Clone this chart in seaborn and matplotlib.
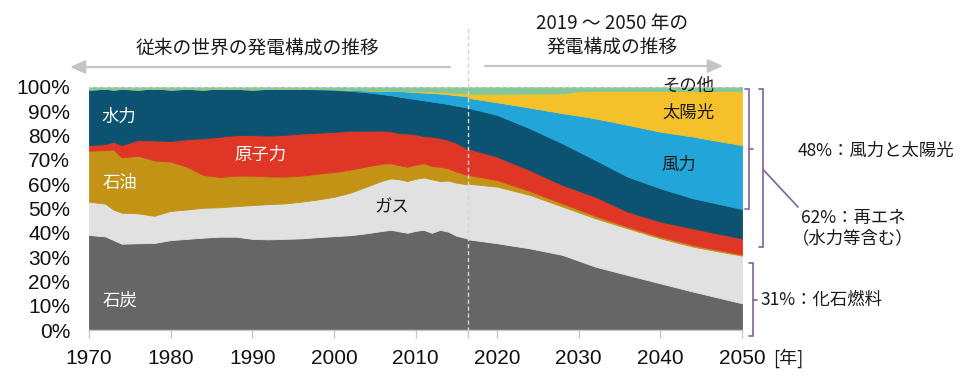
import numpy as np
import pandas as pd
import matplotlib
matplotlib.use("Agg")
import matplotlib.pyplot as plt
from matplotlib import transforms
import seaborn as sns

# ---------------- data (shares of generation, %) ----------------
years = [1970, 1972, 1973, 1974, 1976, 1978, 1980, 1982, 1984, 1986, 1988, 1990,
         1992, 1994, 1996, 1998, 2000, 2002, 2004, 2006, 2007, 2008, 2009, 2010,
         2011, 2012, 2013, 2014, 2015, 2016.3,
         2016.5, 2020, 2024, 2028, 2030, 2032, 2036, 2040, 2044, 2047, 2050]

coal = [39.1, 38.5, 37.0, 35.5, 35.7, 35.8, 37.0, 37.5, 38.0, 38.4, 38.4, 37.5,
        37.3, 37.5, 37.7, 38.2, 38.6, 39.0, 39.8, 40.8, 41.2, 40.6, 40.0, 40.8,
        41.2, 40.0, 41.2, 40.5, 38.8, 37.7,
        37.3, 35.7, 33.6, 30.9, 28.5, 26.1, 22.6, 19.2, 15.8, 13.4, 11.0]
gas = [13.7, 13.5, 12.5, 12.8, 12.3, 11.2, 12.0, 12.1, 12.3, 12.1, 12.6, 13.9,
       14.5, 14.6, 15.1, 15.5, 16.2, 17.5, 19.2, 20.7, 21.2, 21.4, 21.3, 21.4,
       21.6, 22.0, 20.1, 21.0, 21.8, 22.3,
       22.9, 23.3, 22.0, 19.9, 19.9, 19.9, 19.2, 18.5, 18.5, 19.0, 19.6]
oil = [21.0, 22.0, 24.8, 22.7, 23.7, 22.8, 20.3, 17.6, 13.5, 12.5, 12.5, 12.1,
       11.4, 11.0, 10.7, 10.6, 10.2, 9.5, 8.3, 7.0, 6.2, 5.8, 5.9, 5.8,
       5.8, 5.5, 5.9, 5.0, 4.6, 3.8,
       3.6, 2.7, 1.6, 1.3, 1.2, 1.0, 0.7, 0.7, 0.7, 0.6, 0.5]
nuclear = [2.3, 2.5, 3.2, 5.1, 6.5, 8.2, 8.5, 11.3, 15.1, 16.5, 16.7, 16.7,
           16.8, 17.2, 17.3, 16.9, 16.5, 16.0, 14.7, 13.6, 13.2, 13.2, 13.7, 12.5,
           11.2, 12.1, 11.8, 11.7, 11.8, 10.8,
           10.8, 9.6, 8.6, 7.6, 7.7, 7.9, 6.2, 6.2, 6.8, 6.7, 6.6]
hydro = [22.9, 22.7, 21.5, 23.1, 20.8, 21.3, 21.2, 20.7, 20.1, 19.8, 19.0, 18.8,
         19.2, 19.0, 18.4, 17.8, 17.3, 16.4, 15.8, 14.9, 14.8, 15.0, 14.6, 14.5,
         14.7, 14.4, 14.5, 14.8, 15.3, 17.0,
         16.8, 17.2, 17.2, 17.1, 16.1, 15.1, 14.4, 13.7, 12.4, 12.3, 12.1]
wind = [0, 0, 0, 0, 0, 0, 0, 0, 0, 0, 0, 0,
        0, 0, 0.1, 0.2, 0.3, 0.5, 0.8, 1.5, 1.9, 2.3, 2.6, 2.9,
        3.2, 3.5, 3.8, 4.0, 4.3, 4.6,
        4.1, 5.2, 8.5, 12.4, 14.8, 17.1, 21.3, 23.3, 25.4, 25.8, 26.3]
solar = [0, 0, 0, 0, 0, 0, 0, 0, 0, 0, 0, 0,
         0, 0, 0, 0, 0, 0, 0, 0, 0, 0.1, 0.2, 0.3,
         0.5, 0.7, 0.6, 0.8, 1.0, 1.2,
         1.7, 3.5, 5.8, 8.2, 10.0, 11.3, 14.0, 16.8, 18.8, 20.6, 22.3]
other = [1.0, 0.8, 1.0, 0.8, 1.0, 0.7, 1.0, 0.8, 1.0, 0.7, 0.8, 1.0,
         0.8, 0.7, 0.7, 0.8, 0.9, 1.1, 1.4, 1.5, 1.5, 1.6, 1.7, 1.8,
         1.8, 1.8, 2.1, 2.2, 2.4, 2.6,
         2.8, 2.8, 2.7, 2.6, 1.8, 1.6, 1.6, 1.6, 1.6, 1.6, 1.6]

sources = ["石炭", "ガス", "石油", "原子力", "水力", "風力", "太陽光", "その他"]
colors = ["#666666", "#e1e1e1", "#c39316", "#e03626", "#0b5370", "#22a5d8",
          "#f5c12a", "#82c797"]
xtick_years = [1970, 1980, 1990, 2000, 2010, 2020, 2030, 2040, 2050]
ytick_vals = list(range(0, 101, 10))
split_year = 2016.4

df = pd.DataFrame({"year": years, "石炭": coal, "ガス": gas, "石油": oil,
                   "原子力": nuclear, "水力": hydro, "風力": wind,
                   "太陽光": solar, "その他": other})

# ---------------- style ----------------
sns.set_theme(style="white")
plt.rcParams["font.family"] = ["Noto Sans CJK JP", "DejaVu Sans"]
palette = sns.color_palette(colors)

W, H = 960, 386
fig = plt.figure(figsize=(W / 100, H / 100), dpi=100)
ax = fig.add_axes([89 / W, 1 - 330 / H, 653 / W, 243 / H])

ax.stackplot(df["year"], [df[s] for s in sources], colors=palette,
             linewidth=0.6, edgecolor="face")

ax.set_xlim(1970, 2050)
ax.set_ylim(0, 100)

# axes styling
for side in ["left", "right", "top"]:
    ax.spines[side].set_visible(False)
ax.spines["bottom"].set_color("#c8c8c8")
ax.spines["bottom"].set_linewidth(1)

ax.set_xticks(xtick_years)
ax.set_xticklabels([str(y) for y in xtick_years], fontfamily="Liberation Sans",
                   fontsize=15, color="#111111")
ax.set_xticks([split_year], minor=True)
ax.tick_params(axis="x", which="both", length=6, width=1, color="#c8c8c8",
               pad=8, bottom=True)
ax.set_yticks(ytick_vals)
ax.set_yticklabels([f"{v}%" for v in ytick_vals], fontfamily="Liberation Sans",
                   fontsize=15, color="#111111")
ax.tick_params(axis="y", length=0, pad=13.5)
ax.grid(False)

# dashed separators
ax.axvline(split_year, ymin=-0.033, ymax=1.247, ls=(0, (3, 2)),
           color="#d6d6d6", lw=1, clip_on=False, zorder=5)
ax.axhline(100, ls=(0, (3, 2)), color="#cfcfcf", lw=1, clip_on=False, zorder=5)

# in-chart labels
lab_kw = dict(ha="center", va="center", fontsize=12.5)
ax.text(1973.7, 87.7, "水力", color="white", **lab_kw)
ax.text(1973.8, 60.5, "石油", color="white", **lab_kw)
ax.text(1973.8, 12.3, "石炭", color="white", **lab_kw)
ax.text(1991.0, 72.0, "原子力", color="white", **lab_kw)
ax.text(2007.1, 50.6, "ガス", color="#1a1a1a", **lab_kw)
ax.text(2043.4, 100.6, "その他", color="#1a1a1a", **lab_kw)
ax.text(2043.4, 89.3, "太陽光", color="#1a1a1a", **lab_kw)
ax.text(2042.3, 67.9, "風力", color="#1a1a1a", **lab_kw)

# titles and arrows (figure coordinates)
def fx(px):
    return px / W

def fy(py):
    return 1 - py / H

fig.text(fx(257), fy(48), "従来の世界の発電構成の推移", ha="center", va="center",
         fontsize=13.5, color="#1a1a1a")
fig.text(fx(612), fy(23), "2019 ～ 2050 年の", ha="center", va="center",
         fontsize=13.5, color="#1a1a1a")
fig.text(fx(612), fy(47), "発電構成の推移", ha="center", va="center",
         fontsize=13.5, color="#1a1a1a")

arrow_kw = dict(arrowstyle="-|>,head_length=0.45,head_width=0.2",
                color="#c4c4c4", lw=1.6, shrinkA=0, shrinkB=0, mutation_scale=20)
ax.annotate("", xy=(fx(70), fy(67)), xytext=(fx(450), fy(67)),
            xycoords="figure fraction", textcoords="figure fraction",
            arrowprops=arrow_kw)
ax.annotate("", xy=(fx(723), fy(66)), xytext=(fx(485), fy(66)),
            xycoords="figure fraction", textcoords="figure fraction",
            arrowprops=arrow_kw)

# [年] unit label
fig.text(fx(773), fy(358), "[年]", ha="left", va="center", fontsize=13,
         color="#1a1a1a")

# brackets on the right (x in axes fraction, y in data)
bt = transforms.blended_transform_factory(ax.transAxes, ax.transData)

def ax_x(px):
    return (px - 89) / 653

bcol = "#8064a2"
wind_solar_bottom = sum(v[-1] for v in [coal, gas, oil, nuclear, hydro])

def bracket(xv, top, bottom, serif_len=4, mid=None, mid_len=4):
    x0 = ax_x(xv)
    xs = ax_x(xv - serif_len)
    ax.plot([xs, x0, x0, xs], [top, top, bottom, bottom], color=bcol, lw=1.2,
            transform=bt, clip_on=False, solid_joinstyle="miter")
    if mid is not None:
        ax.plot([x0, ax_x(xv + mid_len)], [mid, mid], color=bcol, lw=1.2,
                transform=bt, clip_on=False)

bracket(749, 99.2, wind_solar_bottom, mid=(99.2 + wind_solar_bottom) / 2)
bracket(763, 99.2, 34.2)
ax.plot([ax_x(763), ax_x(798)], [66.1, 50.6], color=bcol, lw=1.2,
        transform=bt, clip_on=False)
bracket(753, 27.7, -2.5, mid=12.3)

side_kw = dict(va="center", fontsize=12.5, color="#1a1a1a", transform=bt)
ax.text(ax_x(798), 73.7, "48%：風力と太陽光", ha="left", **side_kw)
ax.text(ax_x(853), 46.1, "62%：再エネ", ha="center", **side_kw)
ax.text(ax_x(853), 37.9, "（水力等含む）", ha="center", **side_kw)
ax.text(ax_x(760), 12.3, "31%：化石燃料", ha="left", **side_kw)

fig.savefig("out.png", dpi=100, facecolor="white")
